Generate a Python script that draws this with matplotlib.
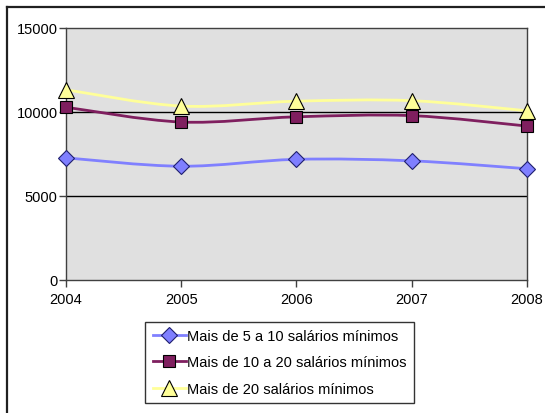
import numpy as np
import matplotlib.pyplot as plt
from matplotlib.path import Path
from matplotlib.patches import PathPatch
from matplotlib.lines import Line2D

plt.rcParams['font.family'] = ['Liberation Sans', 'DejaVu Sans']

# data
years = [2004, 2005, 2006, 2007, 2008]
mais_5_10 = [7250, 6750, 7160, 7070, 6600]
mais_10_20 = [10260, 9380, 9690, 9760, 9140]
mais_20 = [11300, 10330, 10620, 10650, 10050]
labels = ['Mais de 5 a 10 salários mínimos',
          'Mais de 10 a 20 salários mínimos',
          'Mais de 20 salários mínimos']
yticks = [0, 5000, 10000, 15000]

line_colors = ['#8080FF', '#7F1F5F', '#FFFF99']
face_colors = ['#7F7FFF', '#7F1F5F', '#FFFF99']
edge_colors = ['#1F1F6F', '#000000', '#000000']
markers = ['D', 's', '^']
msizes = [8, 8, 11]


def smooth_path(x, y):
    # Excel-like smoothed line: cubic bezier through the points (Catmull-Rom)
    x = np.asarray(x, float)
    y = np.asarray(y, float)
    n = len(x)
    verts = [(x[0], y[0])]
    codes = [Path.MOVETO]
    for i in range(n - 1):
        i0 = max(i - 1, 0)
        i3 = min(i + 2, n - 1)
        c1 = (x[i] + (x[i + 1] - x[i0]) / 6, y[i] + (y[i + 1] - y[i0]) / 6)
        c2 = (x[i + 1] - (x[i3] - x[i]) / 6, y[i + 1] - (y[i3] - y[i]) / 6)
        verts += [c1, c2, (x[i + 1], y[i + 1])]
        codes += [Path.CURVE4] * 3
    return Path(verts, codes)


fig = plt.figure(figsize=(5.45, 4.14), dpi=100)
ax = fig.add_axes([0.121, 0.322, 0.846, 0.609])
ax.set_facecolor('#E0E0E0')

for t in [5000, 10000]:
    ax.axhline(t, color='black', lw=1.0, zorder=2)

series = [mais_5_10, mais_10_20, mais_20]
for vals, lc, fc, ec, mk, ms in zip(series, line_colors, face_colors, edge_colors, markers, msizes):
    patch = PathPatch(smooth_path(years, vals), facecolor='none', edgecolor=lc,
                      lw=2.0, zorder=3, clip_on=False)
    ax.add_patch(patch)
    ax.plot(years, vals, linestyle='none', marker=mk, markersize=ms,
            markerfacecolor=fc, markeredgecolor=ec, markeredgewidth=0.8,
            zorder=4, clip_on=False)

ax.set_xlim(2004, 2008)
ax.set_ylim(0, 15000)
ax.set_xticks(years)
ax.set_xticklabels([str(y) for y in years])
ax.set_yticks(yticks)
ax.set_yticklabels([str(t) for t in yticks])

for s in ax.spines.values():
    s.set_color('#404040')
    s.set_linewidth(1.0)
ax.tick_params(axis='both', direction='out', length=5, width=1, color='#404040',
               labelsize=10.5, labelcolor='black')
ax.tick_params(axis='y', pad=1)
ax.tick_params(axis='x', pad=4)

handles = []
for lc, fc, ec, mk, ms in zip(line_colors, face_colors, edge_colors, markers, msizes):
    handles.append(Line2D([0], [0], color=lc, lw=2.0, marker=mk, markersize=ms,
                          markerfacecolor=fc, markeredgecolor=ec, markeredgewidth=0.8))
leg = fig.legend(handles, labels, loc='center', bbox_to_anchor=(0.513, 0.122),
                 frameon=True, fancybox=False, fontsize=10.5, handlelength=2.25,
                 handletextpad=0.1, labelspacing=0.85, borderpad=0.5)
leg.get_frame().set_edgecolor('black')
leg.get_frame().set_linewidth(1.0)

# outer chart border (left and top edges visible)
fig.add_artist(Line2D([0.012, 0.012], [0.0, 0.981], color='#202020', lw=1.6))
fig.add_artist(Line2D([0.012, 1.0], [0.981, 0.981], color='#202020', lw=1.6))

fig.savefig('out.png', dpi=100)
